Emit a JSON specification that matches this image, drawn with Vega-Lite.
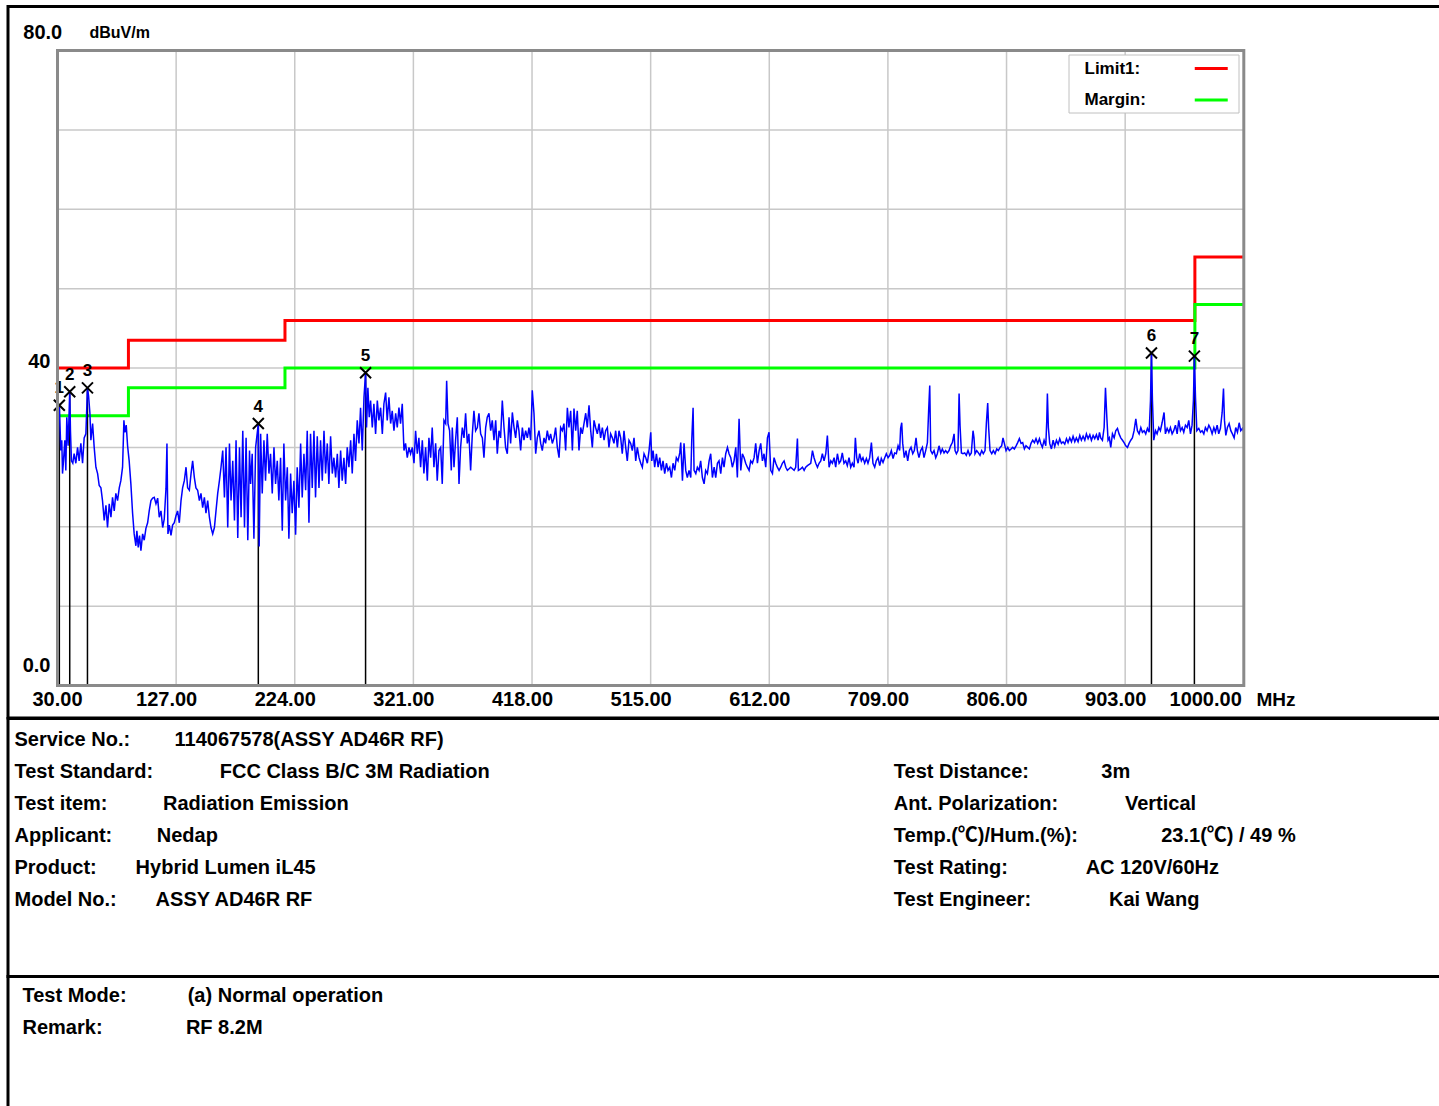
{
  "$schema": "https://vega.github.io/schema/vega-lite/v6.json",
  "padding": {"left": 6, "top": 4.5, "right": 0, "bottom": 0},
  "background": "white",
  "bounds": "flush",
  "spacing": 0,
  "config": {
    "view": {"stroke": "black", "strokeWidth": 3},
    "font": "Liberation Sans"
  },
  "datasets": {
    "vgrid": [{"f":127},{"f":224},{"f":321},{"f":418},{"f":515},{"f":612},{"f":709},{"f":806},{"f":903}],
    "hgrid": [{"v":10},{"v":20},{"v":30},{"v":40},{"v":50},{"v":60},{"v":70}],
    "xticks": [{"f":30},{"f":127},{"f":224},{"f":321},{"f":418},{"f":515},{"f":612},{"f":709},{"f":806},{"f":903},{"f":1000}],
    "yticks": [{"v":0},{"v":40},{"v":80}],
    "limits": [
      {"f":30,"v":40,"s":"Limit1:"},{"f":88,"v":40,"s":"Limit1:"},{"f":88,"v":43.5,"s":"Limit1:"},{"f":216,"v":43.5,"s":"Limit1:"},{"f":216,"v":46,"s":"Limit1:"},{"f":960,"v":46,"s":"Limit1:"},{"f":960,"v":54,"s":"Limit1:"},{"f":1000,"v":54,"s":"Limit1:"},
      {"f":30,"v":34,"s":"Margin:"},{"f":88,"v":34,"s":"Margin:"},{"f":88,"v":37.5,"s":"Margin:"},{"f":216,"v":37.5,"s":"Margin:"},{"f":216,"v":40,"s":"Margin:"},{"f":960,"v":40,"s":"Margin:"},{"f":960,"v":48,"s":"Margin:"},{"f":1000,"v":48,"s":"Margin:"}
    ],
    "markers": [
      {"f":31.5,"v":35.3,"n":"1"},{"f":40.0,"v":37.0,"n":"2"},{"f":54.5,"v":37.5,"n":"3"},{"f":194.2,"v":33.0,"n":"4"},{"f":281.9,"v":39.4,"n":"5"},{"f":924.5,"v":41.9,"n":"6"},{"f":959.6,"v":41.5,"n":"7"}
    ],
    "trace": [
      {"f":30.0,"v":25.4},{"f":30.5,"v":33.4},{"f":31.5,"v":35.3},{"f":32.2,"v":32.1},{"f":32.7,"v":29.6},{"f":33.5,"v":30.9},{"f":34.1,"v":26.7},{"f":34.9,"v":28.3},{"f":36.0,"v":30.9},{"f":36.8,"v":27.1},{"f":37.6,"v":33.8},{"f":38.7,"v":30.2},{"f":40.0,"v":37.0},{"f":40.6,"v":32.1},{"f":41.4,"v":28.3},{"f":42.5,"v":28.0},{"f":43.6,"v":29.2},{"f":45.0,"v":28.0},{"f":46.4,"v":30.0},{"f":47.7,"v":28.3},{"f":49.1,"v":30.5},{"f":50.5,"v":28.0},{"f":51.8,"v":31.2},{"f":53.2,"v":31.7},{"f":54.5,"v":37.5},{"f":55.4,"v":36.5},{"f":56.5,"v":34.3},{"f":57.3,"v":30.9},{"f":58.7,"v":33.0},{"f":60.0,"v":30.0},{"f":61.4,"v":27.5},{"f":62.8,"v":26.7},{"f":64.1,"v":25.2},{"f":65.5,"v":24.9},{"f":66.8,"v":23.3},{"f":68.2,"v":20.8},{"f":69.6,"v":22.7},{"f":70.9,"v":19.9},{"f":72.3,"v":22.9},{"f":73.7,"v":21.2},{"f":75.0,"v":23.7},{"f":76.4,"v":22.0},{"f":77.7,"v":24.2},{"f":79.1,"v":23.3},{"f":80.5,"v":24.9},{"f":81.8,"v":25.8},{"f":83.2,"v":27.5},{"f":84.3,"v":33.4},{"f":85.1,"v":31.9},{"f":86.2,"v":32.8},{"f":87.3,"v":30.2},{"f":88.6,"v":28.3},{"f":90.0,"v":25.4},{"f":91.4,"v":21.7},{"f":92.7,"v":19.1},{"f":94.1,"v":17.6},{"f":94.9,"v":19.5},{"f":96.0,"v":17.4},{"f":97.1,"v":18.9},{"f":98.2,"v":17.0},{"f":99.6,"v":19.1},{"f":100.9,"v":18.3},{"f":102.3,"v":19.8},{"f":103.7,"v":20.5},{"f":105.0,"v":22.0},{"f":106.4,"v":23.3},{"f":107.8,"v":23.6},{"f":109.1,"v":23.7},{"f":110.5,"v":22.9},{"f":111.9,"v":23.6},{"f":113.2,"v":21.2},{"f":114.6,"v":22.0},{"f":116.0,"v":19.9},{"f":117.3,"v":21.0},{"f":118.7,"v":24.8},{"f":119.5,"v":30.5},{"f":120.3,"v":19.1},{"f":121.4,"v":20.2},{"f":122.8,"v":18.9},{"f":124.1,"v":20.2},{"f":125.5,"v":20.5},{"f":126.9,"v":21.4},{"f":128.2,"v":22.0},{"f":129.6,"v":20.5},{"f":131.0,"v":23.3},{"f":132.3,"v":24.9},{"f":133.7,"v":25.8},{"f":135.1,"v":27.5},{"f":136.4,"v":24.9},{"f":137.8,"v":24.6},{"f":139.2,"v":26.7},{"f":140.5,"v":28.3},{"f":141.9,"v":26.2},{"f":143.2,"v":24.9},{"f":144.6,"v":24.6},{"f":146.0,"v":23.3},{"f":147.3,"v":24.2},{"f":148.7,"v":22.4},{"f":150.1,"v":23.7},{"f":151.4,"v":21.7},{"f":152.8,"v":23.3},{"f":154.2,"v":21.2},{"f":155.5,"v":19.9},{"f":156.9,"v":19.1},{"f":158.3,"v":19.9},{"f":159.6,"v":22.0},{"f":161.0,"v":24.2},{"f":162.4,"v":25.8},{"f":163.7,"v":27.5},{"f":165.1,"v":29.6},{"f":166.5,"v":23.7},{"f":167.8,"v":30.0},{"f":169.2,"v":19.9},{"f":170.6,"v":30.5},{"f":171.9,"v":23.3},{"f":173.3,"v":28.3},{"f":174.7,"v":20.8},{"f":176.0,"v":30.9},{"f":177.4,"v":18.6},{"f":178.8,"v":30.0},{"f":180.1,"v":21.2},{"f":181.5,"v":32.1},{"f":182.9,"v":19.9},{"f":184.2,"v":31.2},{"f":185.6,"v":18.3},{"f":187.0,"v":29.6},
      {"f":187.9,"v":25.4},{"f":189.2,"v":29.2},{"f":190.6,"v":18.5},{"f":192.0,"v":30.0},{"f":194.2,"v":33.0},{"f":194.9,"v":17.5},{"f":196.1,"v":31.7},{"f":197.4,"v":24.2},{"f":198.8,"v":30.9},{"f":200.1,"v":25.8},{"f":201.5,"v":31.7},{"f":202.9,"v":26.7},{"f":204.2,"v":29.2},{"f":205.6,"v":24.2},{"f":207.0,"v":30.0},{"f":208.3,"v":25.4},{"f":209.7,"v":28.3},{"f":211.0,"v":23.3},{"f":212.4,"v":28.7},{"f":213.8,"v":19.5},{"f":215.1,"v":30.5},{"f":216.5,"v":23.3},{"f":217.9,"v":27.5},{"f":219.2,"v":18.5},{"f":220.6,"v":26.7},{"f":221.9,"v":21.7},{"f":223.3,"v":25.8},{"f":224.7,"v":19.0},{"f":226.0,"v":27.5},{"f":227.4,"v":22.4},{"f":228.8,"v":30.5},{"f":230.1,"v":23.7},{"f":231.5,"v":29.2},{"f":232.9,"v":24.6},{"f":234.2,"v":32.1},{"f":235.6,"v":20.5},{"f":236.9,"v":31.7},{"f":238.3,"v":24.9},{"f":239.7,"v":32.1},{"f":241.0,"v":23.7},{"f":242.4,"v":31.4},{"f":243.8,"v":24.9},{"f":245.1,"v":30.9},{"f":246.5,"v":25.8},{"f":247.9,"v":32.1},{"f":249.2,"v":26.7},{"f":250.6,"v":30.5},{"f":251.9,"v":25.4},{"f":253.3,"v":31.4},{"f":254.7,"v":26.7},{"f":256.0,"v":28.7},{"f":257.4,"v":26.2},{"f":258.8,"v":29.2},{"f":260.1,"v":24.9},{"f":261.5,"v":29.6},{"f":262.8,"v":25.8},{"f":264.2,"v":28.7},{"f":265.6,"v":25.4},{"f":266.9,"v":30.0},{"f":268.3,"v":27.5},{"f":269.7,"v":30.9},{"f":271.0,"v":26.7},{"f":272.4,"v":31.7},{"f":273.7,"v":28.3},{"f":275.1,"v":33.4},{"f":276.5,"v":30.5},{"f":277.8,"v":35.0},{"f":279.2,"v":29.6},{"f":280.6,"v":36.3},{"f":281.9,"v":39.4},{"f":282.7,"v":32.5},{"f":283.8,"v":37.5},{"f":284.9,"v":33.8},{"f":286.0,"v":35.9},{"f":287.4,"v":32.5},{"f":288.7,"v":35.5},{"f":290.1,"v":31.7},{"f":291.5,"v":35.9},{"f":292.8,"v":33.4},{"f":294.2,"v":35.0},{"f":295.6,"v":31.7},{"f":296.9,"v":35.5},{"f":298.3,"v":36.9},{"f":299.6,"v":33.4},{"f":301.0,"v":36.3},{"f":302.4,"v":33.0},{"f":303.7,"v":34.6},{"f":305.1,"v":32.1},{"f":306.5,"v":34.3},{"f":307.8,"v":32.5},{"f":309.2,"v":35.0},{"f":310.5,"v":33.0},{"f":311.9,"v":35.5},{"f":313.3,"v":29.6},{"f":314.6,"v":30.5},{"f":316.0,"v":28.7},{"f":317.4,"v":30.0},{"f":318.7,"v":29.2},{"f":320.1,"v":30.0},{"f":321.5,"v":28.0},{"f":322.8,"v":32.1},{"f":324.2,"v":29.2},{"f":325.5,"v":31.2},{"f":326.9,"v":27.5},{"f":328.3,"v":30.9},{"f":329.6,"v":26.7},{"f":331.0,"v":30.0},{"f":332.4,"v":25.8},{"f":333.7,"v":31.2},{"f":335.1,"v":28.7},{"f":336.4,"v":32.5},{"f":337.8,"v":27.5},{"f":339.2,"v":30.5},{"f":340.5,"v":25.8},{"f":341.9,"v":29.6},
      {"f":343.3,"v":30.0},{"f":344.6,"v":25.4},{"f":346.0,"v":33.4},{"f":347.4,"v":33.0},{"f":348.2,"v":38.4},{"f":349.3,"v":33.0},{"f":350.6,"v":32.1},{"f":352.0,"v":27.1},{"f":352.8,"v":32.5},{"f":354.2,"v":27.5},{"f":355.5,"v":30.9},{"f":356.9,"v":33.8},{"f":358.3,"v":25.4},{"f":359.6,"v":30.0},{"f":361.0,"v":32.5},{"f":362.4,"v":31.2},{"f":363.7,"v":34.3},{"f":365.1,"v":30.5},{"f":366.4,"v":31.7},{"f":367.8,"v":27.1},{"f":369.2,"v":31.7},{"f":370.5,"v":34.6},{"f":371.9,"v":32.1},{"f":373.3,"v":32.5},{"f":374.6,"v":34.3},{"f":376.0,"v":31.7},{"f":377.4,"v":31.2},{"f":378.7,"v":28.7},{"f":380.1,"v":32.5},{"f":381.4,"v":33.8},{"f":382.8,"v":34.3},{"f":384.2,"v":32.1},{"f":385.5,"v":33.4},{"f":386.9,"v":30.9},{"f":388.3,"v":33.4},{"f":389.6,"v":29.2},{"f":391.0,"v":32.1},{"f":392.3,"v":31.2},{"f":393.7,"v":35.9},{"f":395.1,"v":32.5},{"f":396.4,"v":30.0},{"f":397.8,"v":29.2},{"f":399.2,"v":33.8},{"f":400.5,"v":30.5},{"f":401.9,"v":34.4},{"f":403.3,"v":32.5},{"f":404.6,"v":31.2},{"f":406.0,"v":33.4},{"f":407.3,"v":32.1},{"f":408.7,"v":29.6},{"f":410.1,"v":32.5},{"f":411.4,"v":30.9},{"f":412.8,"v":32.1},{"f":414.2,"v":31.2},{"f":415.5,"v":32.5},{"f":416.9,"v":30.9},{"f":418.2,"v":37.2},{"f":419.6,"v":34.3},{"f":421.0,"v":29.2},{"f":422.3,"v":31.2},{"f":423.7,"v":32.1},{"f":425.1,"v":30.5},{"f":426.4,"v":29.6},{"f":427.8,"v":31.2},{"f":429.1,"v":30.5},{"f":430.5,"v":32.1},{"f":431.9,"v":30.9},{"f":433.2,"v":31.7},{"f":434.6,"v":30.5},{"f":436.0,"v":31.2},{"f":437.3,"v":32.5},{"f":438.7,"v":30.0},{"f":440.1,"v":28.7},{"f":441.4,"v":32.5},{"f":442.8,"v":32.1},{"f":444.1,"v":33.0},{"f":445.5,"v":29.6},{"f":446.9,"v":35.0},{"f":448.2,"v":32.5},{"f":449.6,"v":34.6},{"f":451.0,"v":29.6},{"f":452.3,"v":34.9},{"f":453.7,"v":32.1},{"f":455.0,"v":34.6},{"f":456.4,"v":29.6},{"f":457.8,"v":32.5},{"f":459.1,"v":31.7},{"f":460.5,"v":33.0},{"f":461.9,"v":34.3},{"f":463.2,"v":32.5},{"f":464.6,"v":35.3},{"f":466.0,"v":32.1},{"f":467.3,"v":30.0},{"f":468.7,"v":33.4},{"f":470.0,"v":32.5},{"f":471.4,"v":31.7},{"f":472.8,"v":33.0},{"f":474.1,"v":31.2},{"f":475.5,"v":32.5},{"f":476.9,"v":30.9},{"f":478.2,"v":32.1},{"f":479.6,"v":32.5},{"f":480.9,"v":30.0},{"f":482.3,"v":31.7},{"f":483.7,"v":31.2},{"f":485.0,"v":30.5},{"f":486.4,"v":32.1},{"f":487.8,"v":30.0},{"f":489.1,"v":32.1},{"f":490.5,"v":31.2},{"f":491.8,"v":29.2},{"f":493.2,"v":32.1},{"f":494.6,"v":30.0},{"f":495.9,"v":28.3},{"f":497.3,"v":30.9},{"f":498.7,"v":30.5},{"f":500.0,"v":29.6},{"f":501.4,"v":31.2},{"f":502.8,"v":28.3},{"f":504.1,"v":30.0},{"f":505.5,"v":28.7},
      {"f":506.9,"v":28.0},{"f":508.2,"v":27.5},{"f":509.6,"v":29.2},{"f":511.0,"v":28.7},{"f":512.3,"v":28.0},{"f":513.7,"v":29.6},{"f":515.1,"v":31.9},{"f":515.9,"v":28.3},{"f":517.0,"v":29.6},{"f":518.3,"v":27.5},{"f":519.7,"v":29.2},{"f":521.1,"v":27.5},{"f":522.4,"v":28.7},{"f":523.8,"v":27.1},{"f":525.1,"v":28.3},{"f":526.5,"v":26.7},{"f":527.9,"v":28.0},{"f":529.2,"v":27.1},{"f":530.6,"v":27.5},{"f":532.0,"v":26.2},{"f":533.3,"v":28.0},{"f":534.7,"v":27.1},{"f":536.0,"v":28.7},{"f":537.4,"v":28.3},{"f":538.8,"v":29.3},{"f":539.6,"v":30.6},{"f":541.0,"v":25.8},{"f":542.3,"v":30.5},{"f":543.7,"v":27.1},{"f":545.0,"v":26.2},{"f":546.4,"v":27.1},{"f":547.8,"v":26.2},{"f":548.6,"v":30.9},{"f":549.7,"v":35.0},{"f":550.5,"v":27.1},{"f":551.9,"v":26.7},{"f":553.2,"v":27.5},{"f":554.6,"v":27.1},{"f":555.9,"v":28.3},{"f":557.3,"v":26.2},{"f":558.7,"v":25.4},{"f":560.0,"v":27.1},{"f":561.4,"v":26.7},{"f":562.8,"v":28.3},{"f":564.1,"v":29.2},{"f":565.5,"v":26.2},{"f":566.9,"v":27.5},{"f":568.2,"v":26.2},{"f":569.6,"v":28.0},{"f":570.9,"v":28.3},{"f":572.3,"v":26.7},{"f":573.7,"v":28.7},{"f":575.0,"v":27.5},{"f":576.4,"v":29.2},{"f":577.8,"v":30.0},{"f":579.1,"v":29.2},{"f":580.5,"v":28.7},{"f":581.8,"v":27.5},{"f":583.2,"v":28.3},{"f":584.6,"v":30.0},{"f":585.9,"v":26.2},{"f":587.3,"v":33.6},{"f":588.7,"v":27.1},{"f":590.0,"v":29.2},{"f":591.4,"v":28.7},{"f":592.7,"v":28.0},{"f":594.1,"v":27.5},{"f":595.5,"v":27.1},{"f":596.8,"v":28.3},{"f":598.2,"v":28.0},{"f":599.6,"v":28.7},{"f":600.9,"v":30.5},{"f":602.3,"v":28.0},{"f":603.7,"v":29.6},{"f":605.0,"v":30.5},{"f":606.4,"v":28.3},{"f":607.7,"v":29.2},{"f":609.1,"v":27.5},{"f":610.5,"v":31.2},{"f":611.8,"v":31.9},{"f":613.2,"v":27.1},{"f":614.6,"v":26.7},{"f":615.9,"v":28.7},{"f":617.3,"v":28.0},{"f":618.6,"v":27.5},{"f":620.0,"v":27.1},{"f":621.4,"v":27.5},{"f":622.7,"v":28.0},{"f":624.1,"v":28.3},{"f":625.5,"v":27.5},{"f":626.8,"v":27.1},{"f":628.2,"v":27.3},{"f":629.5,"v":27.5},{"f":630.9,"v":27.3},{"f":632.3,"v":27.1},{"f":633.6,"v":27.5},{"f":635.0,"v":31.1},{"f":635.8,"v":27.1},{"f":637.7,"v":27.3},{"f":639.1,"v":27.5},{"f":640.5,"v":27.1},{"f":641.8,"v":27.5},{"f":643.2,"v":27.7},{"f":645.9,"v":28.0},{"f":647.3,"v":29.6},{"f":648.6,"v":28.7},{"f":650.0,"v":28.0},{"f":651.4,"v":27.5},{"f":652.7,"v":28.0},{"f":654.1,"v":28.3},{"f":655.4,"v":29.2},{"f":656.8,"v":28.3},{"f":658.2,"v":29.2},{"f":659.5,"v":31.5},{"f":660.9,"v":27.5},{"f":662.3,"v":28.3},{"f":663.6,"v":28.0},{"f":665.0,"v":28.7},{"f":666.3,"v":27.5},{"f":667.7,"v":29.2},{"f":669.1,"v":28.0},
      {"f":670.4,"v":28.3},{"f":671.7,"v":29.3},{"f":673.1,"v":28.0},{"f":674.5,"v":28.3},{"f":675.8,"v":27.7},{"f":677.2,"v":28.7},{"f":678.6,"v":27.5},{"f":679.9,"v":28.0},{"f":681.3,"v":27.5},{"f":682.4,"v":31.2},{"f":683.5,"v":28.7},{"f":684.6,"v":28.0},{"f":685.9,"v":29.2},{"f":687.3,"v":28.3},{"f":688.6,"v":28.7},{"f":690.0,"v":28.0},{"f":691.4,"v":28.6},{"f":692.7,"v":28.0},{"f":694.1,"v":28.7},{"f":695.5,"v":30.6},{"f":696.8,"v":28.0},{"f":698.2,"v":27.5},{"f":699.5,"v":28.3},{"f":700.9,"v":28.7},{"f":702.3,"v":27.7},{"f":703.6,"v":28.6},{"f":705.0,"v":28.1},{"f":706.4,"v":28.7},{"f":707.7,"v":29.2},{"f":709.1,"v":28.7},{"f":710.5,"v":29.0},{"f":711.8,"v":29.6},{"f":713.2,"v":28.6},{"f":714.5,"v":29.3},{"f":715.9,"v":29.2},{"f":717.3,"v":30.2},{"f":718.6,"v":29.6},{"f":719.4,"v":32.4},{"f":720.3,"v":33.1},{"f":721.1,"v":30.5},{"f":722.4,"v":28.7},{"f":723.8,"v":29.6},{"f":725.2,"v":28.3},{"f":726.5,"v":29.6},{"f":727.9,"v":30.0},{"f":729.3,"v":29.2},{"f":730.6,"v":29.6},{"f":732.0,"v":31.2},{"f":733.1,"v":29.6},{"f":734.4,"v":28.7},{"f":735.8,"v":29.6},{"f":737.2,"v":30.0},{"f":738.5,"v":28.7},{"f":739.9,"v":29.6},{"f":741.3,"v":30.6},{"f":742.3,"v":34.6},{"f":743.2,"v":37.8},{"f":744.0,"v":29.6},{"f":745.3,"v":29.2},{"f":746.7,"v":29.6},{"f":748.1,"v":28.7},{"f":749.4,"v":29.2},{"f":750.8,"v":30.2},{"f":752.2,"v":29.3},{"f":753.5,"v":29.8},{"f":754.9,"v":29.3},{"f":756.2,"v":29.6},{"f":757.6,"v":29.3},{"f":759.0,"v":29.6},{"f":760.3,"v":30.2},{"f":761.7,"v":30.6},{"f":763.1,"v":31.7},{"f":763.9,"v":29.6},{"f":765.0,"v":29.2},{"f":766.3,"v":29.6},{"f":767.2,"v":36.8},{"f":768.0,"v":32.7},{"f":769.1,"v":29.3},{"f":770.4,"v":29.2},{"f":771.8,"v":29.3},{"f":773.1,"v":29.0},{"f":774.5,"v":29.6},{"f":775.9,"v":29.0},{"f":777.2,"v":29.3},{"f":778.6,"v":32.1},{"f":779.4,"v":31.2},{"f":780.2,"v":29.2},{"f":781.6,"v":29.6},{"f":783.0,"v":29.3},{"f":784.3,"v":29.0},{"f":785.7,"v":29.6},{"f":787.0,"v":29.2},{"f":788.4,"v":29.6},{"f":789.5,"v":33.0},{"f":790.6,"v":35.6},{"f":791.4,"v":32.4},{"f":792.5,"v":29.6},{"f":793.9,"v":29.2},{"f":795.2,"v":29.6},{"f":796.6,"v":29.2},{"f":798.0,"v":29.8},{"f":799.3,"v":29.6},{"f":800.7,"v":30.0},{"f":802.0,"v":30.2},{"f":803.1,"v":31.2},{"f":804.2,"v":30.5},{"f":805.6,"v":29.6},{"f":807.0,"v":30.0},{"f":808.3,"v":29.6},{"f":809.7,"v":29.8},{"f":811.0,"v":30.0},{"f":812.4,"v":29.8},{"f":813.8,"v":30.2},{"f":815.1,"v":30.6},{"f":816.5,"v":31.1},{"f":817.9,"v":30.5},{"f":819.2,"v":30.6},{"f":820.6,"v":29.8},{"f":821.9,"v":30.2},{"f":823.3,"v":30.0},{"f":824.7,"v":29.8},{"f":826.0,"v":30.5},{"f":827.4,"v":30.9},{"f":828.8,"v":30.6},{"f":830.1,"v":31.1},{"f":831.5,"v":30.5},{"f":832.9,"v":31.1},
      {"f":834.0,"v":30.5},{"f":835.3,"v":30.0},{"f":836.7,"v":30.9},{"f":838.1,"v":30.2},{"f":838.9,"v":33.4},{"f":839.4,"v":36.8},{"f":840.2,"v":32.5},{"f":841.3,"v":30.5},{"f":842.7,"v":29.8},{"f":844.1,"v":30.9},{"f":845.4,"v":30.1},{"f":846.8,"v":30.9},{"f":848.2,"v":30.4},{"f":849.5,"v":31.1},{"f":850.9,"v":30.5},{"f":852.2,"v":30.7},{"f":853.6,"v":30.4},{"f":855.0,"v":31.1},{"f":856.3,"v":30.6},{"f":857.7,"v":31.2},{"f":859.1,"v":30.7},{"f":860.4,"v":31.4},{"f":861.8,"v":30.7},{"f":863.1,"v":31.2},{"f":864.5,"v":30.7},{"f":865.9,"v":31.5},{"f":867.2,"v":30.9},{"f":868.6,"v":31.4},{"f":870.0,"v":30.9},{"f":871.3,"v":31.7},{"f":872.7,"v":31.1},{"f":874.1,"v":31.6},{"f":875.4,"v":30.9},{"f":876.8,"v":31.5},{"f":878.1,"v":31.1},{"f":879.5,"v":31.6},{"f":880.9,"v":30.9},{"f":882.0,"v":31.9},{"f":883.0,"v":31.2},{"f":884.4,"v":30.9},{"f":885.8,"v":32.5},{"f":886.9,"v":37.5},{"f":888.0,"v":33.8},{"f":889.0,"v":30.9},{"f":890.1,"v":31.2},{"f":891.2,"v":30.0},{"f":892.6,"v":31.7},{"f":894.0,"v":31.2},{"f":895.3,"v":32.1},{"f":896.7,"v":32.4},{"f":898.0,"v":31.7},{"f":899.4,"v":31.2},{"f":900.8,"v":30.9},{"f":902.1,"v":30.6},{"f":903.5,"v":30.2},{"f":904.9,"v":30.0},{"f":906.2,"v":30.5},{"f":907.6,"v":30.9},{"f":908.9,"v":31.2},{"f":910.3,"v":32.1},{"f":911.7,"v":33.6},{"f":913.0,"v":32.1},{"f":914.4,"v":31.7},{"f":915.8,"v":32.5},{"f":917.1,"v":31.9},{"f":918.5,"v":32.1},{"f":919.8,"v":31.7},{"f":921.2,"v":32.4},{"f":922.6,"v":31.9},{"f":923.7,"v":35.9},{"f":924.5,"v":41.9},{"f":925.3,"v":35.9},{"f":926.4,"v":30.9},{"f":927.8,"v":32.1},{"f":929.1,"v":31.7},{"f":930.5,"v":32.5},{"f":931.8,"v":32.1},{"f":933.2,"v":33.1},{"f":934.8,"v":34.4},{"f":935.9,"v":31.7},{"f":937.3,"v":32.4},{"f":938.7,"v":31.9},{"f":940.0,"v":32.5},{"f":941.4,"v":31.7},{"f":942.7,"v":32.1},{"f":944.1,"v":32.8},{"f":945.5,"v":31.7},{"f":946.8,"v":33.4},{"f":948.2,"v":32.1},{"f":949.6,"v":32.5},{"f":950.9,"v":31.9},{"f":952.3,"v":32.8},{"f":953.7,"v":32.5},{"f":955.0,"v":33.4},{"f":956.4,"v":31.7},{"f":957.7,"v":32.8},{"f":958.8,"v":35.9},{"f":959.6,"v":41.5},{"f":960.5,"v":36.3},{"f":961.6,"v":32.1},{"f":963.2,"v":32.4},{"f":964.6,"v":31.9},{"f":965.9,"v":32.1},{"f":967.3,"v":31.7},{"f":968.6,"v":32.5},{"f":970.0,"v":32.1},{"f":971.4,"v":32.8},{"f":972.7,"v":32.4},{"f":974.1,"v":31.7},{"f":975.5,"v":32.5},{"f":976.8,"v":31.9},{"f":978.2,"v":32.8},{"f":979.5,"v":31.7},{"f":980.9,"v":32.4},{"f":982.3,"v":34.4},{"f":983.4,"v":37.4},{"f":984.2,"v":33.4},{"f":985.3,"v":31.5},{"f":986.6,"v":32.5},{"f":988.0,"v":33.0},{"f":989.4,"v":32.1},{"f":990.7,"v":31.7},{"f":992.1,"v":31.2},{"f":993.4,"v":32.5},{"f":994.8,"v":31.9},{"f":996.2,"v":33.1},{"f":997.5,"v":32.1},{"f":998.9,"v":32.4},{"f":1000.0,"v":31.9}
    ],
    "info": [
      {"col":0,"row":1,"t":"Service No.:\u00a0\u00a0\u00a0\u00a0\u00a0\u00a0\u00a0\u00a0114067578(ASSY AD46R RF)"},
      {"col":0,"row":2,"t":"Test Standard:\u00a0\u00a0\u00a0\u00a0\u00a0\u00a0\u00a0\u00a0\u00a0\u00a0\u00a0\u00a0FCC Class B/C 3M Radiation"},
      {"col":0,"row":3,"t":"Test item:\u00a0\u00a0\u00a0\u00a0\u00a0\u00a0\u00a0\u00a0\u00a0\u00a0Radiation Emission"},
      {"col":0,"row":4,"t":"Applicant:\u00a0\u00a0\u00a0\u00a0\u00a0\u00a0\u00a0\u00a0Nedap"},
      {"col":0,"row":5,"t":"Product:\u00a0\u00a0\u00a0\u00a0\u00a0\u00a0\u00a0Hybrid Lumen iL45"},
      {"col":0,"row":6,"t":"Model No.:\u00a0\u00a0\u00a0\u00a0\u00a0\u00a0\u00a0ASSY AD46R RF"},
      {"col":1,"row":2,"t":"Test Distance:\u00a0\u00a0\u00a0\u00a0\u00a0\u00a0\u00a0\u00a0\u00a0\u00a0\u00a0\u00a0\u00a03m"},
      {"col":1,"row":3,"t":"Ant. Polarization:\u00a0\u00a0\u00a0\u00a0\u00a0\u00a0\u00a0\u00a0\u00a0\u00a0\u00a0\u00a0Vertical"},
      {"col":1,"row":4,"t":"Temp.(℃)/Hum.(%):\u00a0\u00a0\u00a0\u00a0\u00a0\u00a0\u00a0\u00a0\u00a0\u00a0\u00a0\u00a0\u00a0\u00a0\u00a023.1(℃) / 49 %"},
      {"col":1,"row":5,"t":"Test Rating:\u00a0\u00a0\u00a0\u00a0\u00a0\u00a0\u00a0\u00a0\u00a0\u00a0\u00a0\u00a0\u00a0\u00a0AC 120V/60Hz"},
      {"col":1,"row":6,"t":"Test Engineer:\u00a0\u00a0\u00a0\u00a0\u00a0\u00a0\u00a0\u00a0\u00a0\u00a0\u00a0\u00a0\u00a0\u00a0Kai Wang"}
    ],
    "mode": [
      {"row":1,"t":"Test Mode:\u00a0\u00a0\u00a0\u00a0\u00a0\u00a0\u00a0\u00a0\u00a0\u00a0\u00a0(a) Normal operation"},
      {"row":2,"t":"Remark:\u00a0\u00a0\u00a0\u00a0\u00a0\u00a0\u00a0\u00a0\u00a0\u00a0\u00a0\u00a0\u00a0\u00a0\u00a0RF 8.2M"}
    ]
  },
  "vconcat": [
    {
      "width": 1434,
      "height": 711.5,
      "layer": [
        {
          "data": {"name": "vgrid"},
          "mark": {"type": "rule", "color": "#c8c8c8", "strokeWidth": 1.5},
          "encoding": {
            "x": {"field": "f", "type": "quantitative", "axis": null,
              "scale": {"domain": [30, 1000], "range": [49.5, 1235.8], "nice": false, "zero": false}},
            "y": {"datum": 0, "type": "quantitative", "axis": null,
              "scale": {"domain": [0, 80], "range": [679, 44], "nice": false, "zero": false}},
            "y2": {"datum": 80}
          }
        },
        {
          "data": {"name": "hgrid"},
          "mark": {"type": "rule", "color": "#c8c8c8", "strokeWidth": 1.5},
          "encoding": {
            "y": {"field": "v", "type": "quantitative", "axis": null},
            "x": {"datum": 30, "type": "quantitative", "axis": null},
            "x2": {"datum": 1000}
          }
        },
        {
          "data": {"name": "limits"},
          "mark": {"type": "line", "strokeWidth": 3, "interpolate": "linear"},
          "encoding": {
            "x": {"field": "f", "type": "quantitative", "axis": null},
            "y": {"field": "v", "type": "quantitative", "axis": null},
            "color": {"field": "s", "type": "nominal",
              "scale": {"domain": ["Limit1:", "Margin:"], "range": ["#ff0000", "#00ff00"]},
              "legend": {
                "orient": "none", "legendX": 1060.5, "legendY": 48, "title": null,
                "labelFont": "Liberation Sans", "labelFontSize": 17, "labelFontWeight": "bold", "labelColor": "black",
                "symbolType": "M-2,0H2", "symbolSize": 272, "symbolStrokeWidth": 3,
                "symbolOffset": 128.75, "labelOffset": -136.75,
                "padding": 4, "rowPadding": 13.5,
                "strokeColor": "#c0c0c0", "fillColor": "white"
              }
            }
          }
        },
        {
          "data": {"name": "markers"},
          "mark": {"type": "rule", "color": "black", "strokeWidth": 1.5},
          "encoding": {
            "x": {"field": "f", "type": "quantitative", "axis": null},
            "y": {"field": "v", "type": "quantitative", "axis": null},
            "y2": {"datum": 0}
          }
        },
        {
          "data": {"name": "trace"},
          "mark": {"type": "line", "color": "#0000ff", "strokeWidth": 1.5},
          "encoding": {
            "x": {"field": "f", "type": "quantitative", "axis": null},
            "y": {"field": "v", "type": "quantitative", "axis": null}
          }
        },
        {
          "data": {"name": "markers"},
          "mark": {"type": "point", "shape": "M-1,-1L1,1M-1,1L1,-1", "filled": false, "stroke": "black", "strokeWidth": 2, "size": 121, "opacity": 1},
          "encoding": {
            "x": {"field": "f", "type": "quantitative", "axis": null},
            "y": {"field": "v", "type": "quantitative", "axis": null}
          }
        },
        {
          "data": {"name": "markers"},
          "mark": {"type": "text", "dy": -17, "font": "Liberation Sans", "fontSize": 17, "fontWeight": "bold", "color": "black", "baseline": "middle"},
          "encoding": {
            "x": {"field": "f", "type": "quantitative", "axis": null},
            "y": {"field": "v", "type": "quantitative", "axis": null},
            "text": {"field": "n"}
          }
        },
        {
          "data": {"values": [{}]},
          "mark": {"type": "rect", "fillOpacity": 0, "stroke": "#8a8a8a", "strokeWidth": 3},
          "encoding": {
            "x": {"datum": 30, "type": "quantitative", "axis": null},
            "x2": {"datum": 1000},
            "y": {"datum": 0, "type": "quantitative", "axis": null},
            "y2": {"datum": 80}
          }
        },
        {
          "data": {"name": "xticks"},
          "transform": [{"filter": "datum.f > 30 && datum.f < 1000"}],
          "mark": {"type": "text", "align": "center", "baseline": "middle", "dx": -9.5, "dy": 14, "font": "Liberation Sans", "fontSize": 20, "fontWeight": "bold", "color": "black"},
          "encoding": {
            "x": {"field": "f", "type": "quantitative", "axis": null},
            "y": {"datum": 0, "type": "quantitative", "axis": null},
            "text": {"field": "f", "type": "quantitative", "format": ".2f"}
          }
        },
        {
          "data": {"name": "xticks"},
          "transform": [{"filter": "datum.f == 30"}],
          "mark": {"type": "text", "align": "center", "baseline": "middle", "dx": 0, "dy": 14, "font": "Liberation Sans", "fontSize": 20, "fontWeight": "bold", "color": "black"},
          "encoding": {
            "x": {"field": "f", "type": "quantitative", "axis": null},
            "y": {"datum": 0, "type": "quantitative", "axis": null},
            "text": {"field": "f", "type": "quantitative", "format": ".2f"}
          }
        },
        {
          "data": {"name": "xticks"},
          "transform": [{"filter": "datum.f == 1000"}],
          "mark": {"type": "text", "align": "right", "baseline": "middle", "dx": -2, "dy": 14, "font": "Liberation Sans", "fontSize": 20, "fontWeight": "bold", "color": "black"},
          "encoding": {
            "x": {"field": "f", "type": "quantitative", "axis": null},
            "y": {"datum": 0, "type": "quantitative", "axis": null},
            "text": {"field": "f", "type": "quantitative", "format": ".2f"}
          }
        },
        {
          "data": {"values": [{"t": "MHz"}]},
          "mark": {"type": "text", "align": "left", "baseline": "middle", "dx": 12.7, "dy": 14, "font": "Liberation Sans", "fontSize": 19, "fontWeight": "bold", "color": "black"},
          "encoding": {
            "x": {"datum": 1000, "type": "quantitative", "axis": null},
            "y": {"datum": 0, "type": "quantitative", "axis": null},
            "text": {"field": "t"}
          }
        },
        {
          "data": {"name": "yticks"},
          "transform": [{"filter": "datum.v == 80"}],
          "mark": {"type": "text", "align": "right", "baseline": "middle", "dx": 4.7, "dy": -17.5, "font": "Liberation Sans", "fontSize": 20, "fontWeight": "bold", "color": "black"},
          "encoding": {
            "x": {"datum": 30, "type": "quantitative", "axis": null},
            "y": {"field": "v", "type": "quantitative", "axis": null},
            "text": {"field": "v", "type": "quantitative", "format": ".1f"}
          }
        },
        {
          "data": {"name": "yticks"},
          "transform": [{"filter": "datum.v == 40"}],
          "mark": {"type": "text", "align": "right", "baseline": "middle", "dx": -7, "dy": -6, "font": "Liberation Sans", "fontSize": 20, "fontWeight": "bold", "color": "black"},
          "encoding": {
            "x": {"datum": 30, "type": "quantitative", "axis": null},
            "y": {"field": "v", "type": "quantitative", "axis": null},
            "text": {"field": "v", "type": "quantitative", "format": ".0f"}
          }
        },
        {
          "data": {"name": "yticks"},
          "transform": [{"filter": "datum.v == 0"}],
          "mark": {"type": "text", "align": "right", "baseline": "middle", "dx": -7, "dy": -20, "font": "Liberation Sans", "fontSize": 20, "fontWeight": "bold", "color": "black"},
          "encoding": {
            "x": {"datum": 30, "type": "quantitative", "axis": null},
            "y": {"field": "v", "type": "quantitative", "axis": null},
            "text": {"field": "v", "type": "quantitative", "format": ".1f"}
          }
        },
        {
          "data": {"values": [{"t": "dBuV/m"}]},
          "mark": {"type": "text", "align": "left", "baseline": "middle", "dx": 32, "dy": -17.5, "font": "Liberation Sans", "fontSize": 16, "fontWeight": "bold", "color": "black"},
          "encoding": {
            "x": {"datum": 30, "type": "quantitative", "axis": null},
            "y": {"datum": 80, "type": "quantitative", "axis": null},
            "text": {"field": "t"}
          }
        }
      ]
    },
    {
      "width": 1434,
      "height": 258,
      "data": {"name": "info"},
      "mark": {"type": "text", "align": "left", "baseline": "middle", "font": "Liberation Sans, Noto Sans CJK SC", "fontSize": 20, "fontWeight": "bold", "color": "black"},
      "encoding": {
        "x": {"field": "col", "type": "quantitative", "scale": {"domain": [0, 1], "range": [6.5, 885.8]}, "axis": null},
        "y": {"field": "row", "type": "quantitative", "scale": {"domain": [1, 6], "range": [21.5, 181.5]}, "axis": null},
        "text": {"field": "t"}
      }
    },
    {
      "width": 1434,
      "height": 133,
      "data": {"name": "mode"},
      "mark": {"type": "text", "align": "left", "baseline": "middle", "font": "Liberation Sans", "fontSize": 20, "fontWeight": "bold", "color": "black"},
      "encoding": {
        "x": {"datum": 0, "type": "quantitative", "scale": {"domain": [0, 1], "range": [14.5, 900]}, "axis": null},
        "y": {"field": "row", "type": "quantitative", "scale": {"domain": [1, 2], "range": [19.5, 51.5]}, "axis": null},
        "text": {"field": "t"}
      }
    }
  ]
}
